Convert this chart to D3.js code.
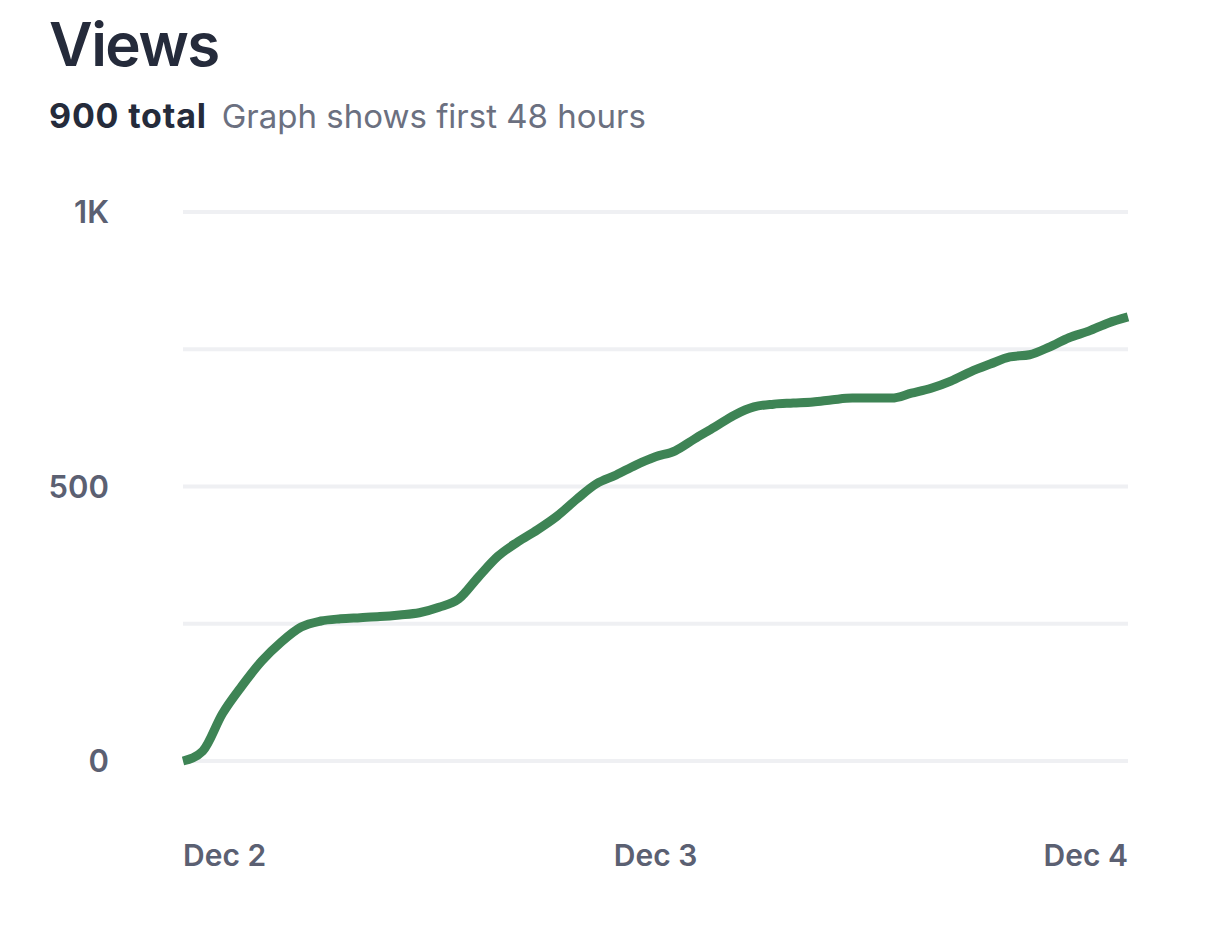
<!DOCTYPE html>
<html>
<head>
<meta charset="utf-8">
<script src="https://cdn.jsdelivr.net/npm/d3@7"></script>
<style>
    body { margin: 0; background: #fff; }
    text { font-family: Inter, 'Noto Sans', sans-serif; }
</style>
</head>
<body>
<div id="chart"></div>
<script>
// hourly cumulative views, first 48 hours
const hours = d3.range(0, 49);
const views = [
    0, 18, 86, 137, 182, 217, 244, 255, 259, 261,
    263, 266, 270, 280, 295, 335, 373, 399, 421, 446,
    477, 505, 521, 539, 554, 565, 587, 608, 630, 645,
    650, 652, 654, 658, 661, 661, 661, 670, 679, 692,
    709, 723, 736, 740, 754, 771, 783, 798, 809,
];
const yTicks = [0, 250, 500, 750, 1000];
const yLabels = { 0: '0', 500: '500', 1000: '1K' };
const xTicks = [new Date(Date.UTC(2023, 11, 2)), new Date(Date.UTC(2023, 11, 3)), new Date(Date.UTC(2023, 11, 4))];
const xLabels = ['Dec 2', 'Dec 3', 'Dec 4'];
const start = xTicks[0];

const width = 1206;
const height = 939;
const plotLeft = 183;
const plotRight = 1128;
const plotTop = 212;
const plotBottom = 761;

const svg = d3.select('#chart')
    .append('svg')
    .attr('width', width)
    .attr('height', height);

svg.append('text')
    .attr('x', 49)
    .attr('y', 66)
    .style('font-size', '60px')
    .style('font-weight', 600)
    .style('letter-spacing', '-1.5px')
    .attr('fill', '#252b3b')
    .text('Views');

const sub = svg.append('text')
    .attr('x', 49)
    .attr('y', 128)
    .style('font-size', '33px');
sub.append('tspan')
    .style('font-size', '34px')
    .style('font-weight', 700)
    .style('letter-spacing', '0.8px')
    .attr('fill', '#252b3b')
    .text('900 total');
sub.append('tspan')
    .attr('dx', 15)
    .style('letter-spacing', '0px')
    .attr('fill', '#6b7080')
    .text('Graph shows first 48 hours');

const x = d3.scaleUtc()
    .domain([xTicks[0], xTicks[2]])
    .range([plotLeft, plotRight]);

const y = d3.scaleLinear()
    .domain([0, 1000])
    .range([plotBottom, plotTop]);

// gridlines
svg.append('g')
    .selectAll('line')
    .data(yTicks)
    .enter()
    .append('line')
    .attr('x1', plotLeft)
    .attr('x2', plotRight)
    .attr('y1', d => y(d))
    .attr('y2', d => y(d))
    .attr('stroke', '#eff0f3')
    .attr('stroke-width', 4);

// y labels
svg.append('g')
    .selectAll('text')
    .data(yTicks.filter(d => yLabels[d] !== undefined))
    .enter()
    .append('text')
    .attr('x', 109)
    .attr('y', d => y(d))
    .attr('dy', '0.36em')
    .attr('text-anchor', 'end')
    .style('font-size', '31px')
    .style('font-weight', 600)
    .attr('fill', '#5b6072')
    .text(d => yLabels[d]);

// x labels
const anchors = ['start', 'middle', 'end'];
svg.append('g')
    .selectAll('text')
    .data(xTicks)
    .enter()
    .append('text')
    .attr('x', d => x(d))
    .attr('y', 866)
    .attr('text-anchor', (d, i) => anchors[i])
    .style('font-size', '30px')
    .style('font-weight', 600)
    .attr('fill', '#5b6072')
    .text((d, i) => xLabels[i]);

const line = d3.line()
    .curve(d3.curveMonotoneX)
    .x((d, i) => x(d3.utcHour.offset(start, hours[i])))
    .y(d => y(d));

svg.append('path')
    .datum(views)
    .attr('d', line)
    .attr('fill', 'none')
    .attr('stroke', '#3e8455')
    .attr('stroke-width', 9)
    .attr('stroke-linejoin', 'round');
</script>
</body>
</html>
